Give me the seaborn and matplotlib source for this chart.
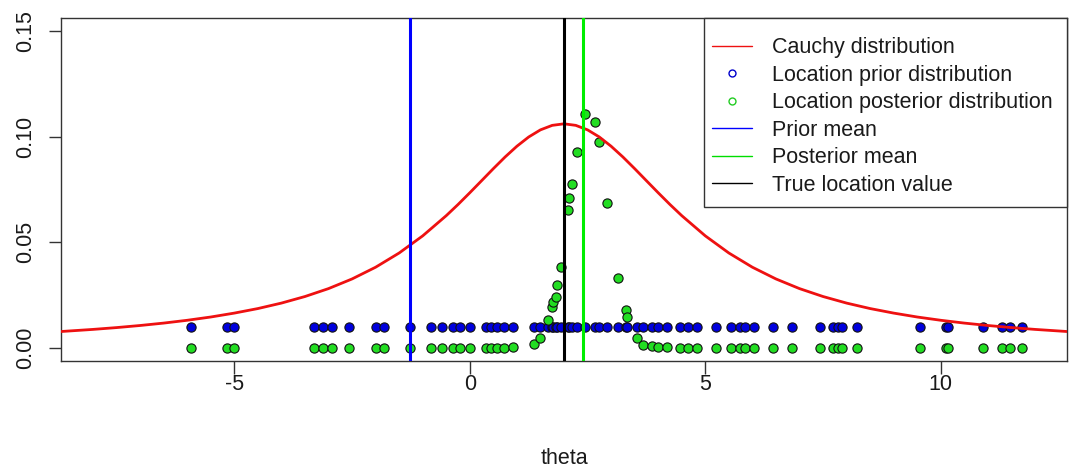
import matplotlib
matplotlib.use("Agg")
import matplotlib.pyplot as plt
from matplotlib.lines import Line2D
from matplotlib.patches import Rectangle
import seaborn as sns
import pandas as pd

# ---------------- data ----------------
curve_x = [-8.68, -8, -7.5, -7, -6.5, -6, -5.5, -5, -4.5, -4, -3.5, -3, -2.5, -2,
           -1.5, -1, -0.5, -0.25, 0, 0.25, 0.5, 0.75, 1, 1.25, 1.5, 1.75, 2,
           2.25, 2.5, 2.75, 3, 3.25, 3.5, 3.75, 4, 4.25, 4.5, 5, 5.5, 6, 6.5,
           7, 7.5, 8, 8.5, 9, 9.5, 10, 10.5, 11, 11.5, 12, 12.68]
curve_y = [0.00776, 0.00876, 0.00962, 0.01061, 0.01175, 0.01308, 0.01463, 0.01648,
           0.01863, 0.02122, 0.02433, 0.02808, 0.03265, 0.03820, 0.04494, 0.05305,
           0.06262, 0.06790, 0.07346, 0.07916, 0.08488, 0.09041, 0.09549, 0.09986,
           0.10324, 0.10537, 0.10610, 0.10537, 0.10324, 0.09986, 0.09549, 0.09041,
           0.08488, 0.07916, 0.07346, 0.06790, 0.06262, 0.05305, 0.04494, 0.03820,
           0.03265, 0.02808, 0.02433, 0.02122, 0.01863, 0.01648, 0.01463, 0.01308,
           0.01175, 0.01061, 0.00962, 0.00876, 0.00776]

theta = [-5.92, -5.16, -5.01, -3.31, -3.12, -2.93, -2.57, -2.00, -1.83, -1.27,
         -0.83, -0.59, -0.36, -0.21, 0.00, 0.34, 0.45, 0.57, 0.72, 0.91,
         1.36, 1.49, 1.66, 1.75, 1.77, 1.82, 1.85, 1.93, 2.09, 2.11, 2.17, 2.27,
         2.44, 2.65, 2.74, 2.91, 3.15, 3.31, 3.33, 3.54, 3.68, 3.86, 3.99, 4.18,
         4.46, 4.63, 4.82, 5.22, 5.54, 5.73, 5.84, 6.03, 6.43, 6.84, 7.43, 7.71,
         7.81, 7.90, 8.22, 9.55, 10.11, 10.15, 10.89, 11.30, 11.46, 11.72]
prior_level = 0.01
posterior = [0, 0, 0, 0, 0, 0, 0, 0, 0, 0,
             0, 0, 0, 0, 0, 0, 0, 0, 0, 0.0005,
             0.0018, 0.0049, 0.0131, 0.0194, 0.0218, 0.0243, 0.0298, 0.0383,
             0.0655, 0.0709, 0.0775, 0.0928,
             0.1107, 0.1071, 0.0975, 0.0688, 0.0331, 0.0180, 0.0148, 0.0049,
             0.0014, 0.0009, 0.0005, 0.0002,
             0, 0, 0, 0, 0, 0, 0, 0, 0, 0, 0, 0,
             0, 0, 0, 0, 0, 0, 0, 0, 0, 0]

prior_mean = -1.28
posterior_mean = 2.40
true_location = 2.0

x_ticks = [-5, 0, 5, 10]
y_ticks = [0.00, 0.05, 0.10, 0.15]
y_tick_labels = ["0.00", "0.05", "0.10", "0.15"]

legend_labels = ["Cauchy distribution", "Location prior distribution",
                 "Location posterior distribution", "Prior mean",
                 "Posterior mean", "True location value"]

# ---------------- style ----------------
sns.set_style("ticks")
plt.rcParams["font.family"] = ["Liberation Sans", "DejaVu Sans"]
plt.rcParams["axes.unicode_minus"] = False
FS = 15.5
TXT = "#1a1a1a"

fig = plt.figure(figsize=(10.7, 4.7), dpi=100)
W, H = 1070, 470
ax = fig.add_axes([61 / W, 1 - 361 / H, (1067 - 61) / W, (361 - 18) / H])

df_pts = pd.DataFrame({"theta": theta,
                       "prior": [prior_level] * len(theta),
                       "posterior": posterior})
df_curve = pd.DataFrame({"x": curve_x, "y": curve_y})

sns.scatterplot(data=df_pts, x="theta", y="prior", ax=ax, color="#0000dd",
                edgecolor="#111111", linewidth=0.8, s=44, zorder=2, legend=False)
sns.scatterplot(data=df_pts, x="theta", y="posterior", ax=ax, color="#22dd22",
                edgecolor="#111111", linewidth=0.8, s=44, zorder=2, legend=False)
sns.lineplot(data=df_curve, x="x", y="y", ax=ax, color="#ee1111", lw=2.0,
             sort=False, zorder=3, legend=False)

ax.axvline(prior_mean, color="#0000ff", lw=2.2, zorder=4)
ax.axvline(posterior_mean, color="#00ee00", lw=2.2, zorder=4)
ax.axvline(true_location, color="black", lw=2.2, zorder=4)

ax.set_xlim(-8.68, 12.68)
ax.set_ylim(-0.0062, 0.1562)
ax.set_xticks(x_ticks)
ax.set_xticklabels([str(t) for t in x_ticks], fontsize=FS, color=TXT)
ax.set_yticks(y_ticks)
ax.set_yticklabels(y_tick_labels, fontsize=FS, color=TXT, rotation=90,
                   va="center", ha="right")
ax.tick_params(axis="both", direction="out", length=9, width=1, color="#333333")
ax.tick_params(axis="y", pad=9)
ax.tick_params(axis="x", pad=0)
ax.set_xlabel("theta", fontsize=FS, color=TXT, labelpad=38.5)
ax.set_ylabel("")
for sp in ax.spines.values():
    sp.set_visible(True)
    sp.set_color("#333333")
    sp.set_linewidth(1)

# legend frame
frame = Rectangle((704 / W, 1 - 207 / H), (1067 - 704) / W, (207 - 18) / H,
                  transform=fig.transFigure, facecolor="white",
                  edgecolor="#333333", lw=1, zorder=6, clip_on=False)
ax.add_patch(frame)

handles = [
    Line2D([], [], color="#ee1111", lw=1),
    Line2D([], [], marker="o", ls="none", mfc="none", mec="#0000cc", ms=5, mew=1),
    Line2D([], [], marker="o", ls="none", mfc="none", mec="#22cc22", ms=5, mew=1),
    Line2D([], [], color="#0000ff", lw=1),
    Line2D([], [], color="#00dd00", lw=1),
    Line2D([], [], color="black", lw=1),
]
leg = ax.legend(handles, legend_labels, loc="upper left",
                bbox_to_anchor=(712 / W, 1 - 37.5 / H),
                bbox_transform=fig.transFigure, frameon=False, borderpad=0,
                borderaxespad=0, handlelength=40 / 21.5, handletextpad=20 / 21.5,
                labelspacing=0.30, prop={"size": FS})
for t in leg.get_texts():
    t.set_color(TXT)
leg.set_zorder(7)

fig.savefig("out.png", dpi=100)
